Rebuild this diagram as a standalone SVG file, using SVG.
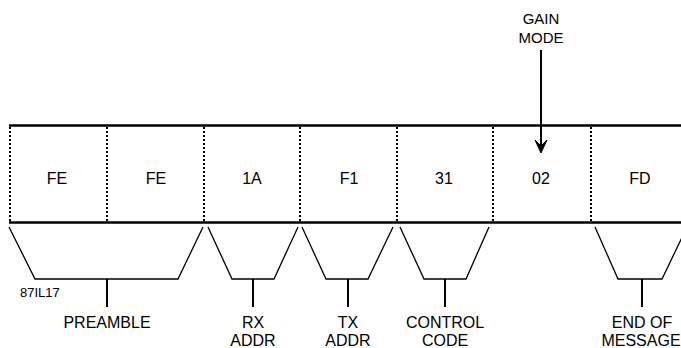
<svg xmlns="http://www.w3.org/2000/svg" width="681" height="348" viewBox="0 0 681 348">
<style>
.t{font-family:"Liberation Sans",Arial,sans-serif;font-size:16px;fill:#000;text-anchor:middle}
.s{font-size:15px}
.bar{stroke:#000;stroke-width:2.5;fill:none}
.dot{stroke:#000;stroke-width:2;stroke-dasharray:2 2;fill:none}
.br{stroke:#000;stroke-width:1.3;fill:none}
.stem{stroke:#000;stroke-width:2;fill:none}
</style>
<rect width="681" height="348" fill="#fff"/>
<g id="frame">
<line class="bar" x1="9" y1="125.5" x2="681" y2="125.5"/>
<line class="bar" x1="9" y1="222.5" x2="681" y2="222.5"/>
<line class="dot" x1="10" y1="127" x2="10" y2="221"/>
<line class="dot" x1="107" y1="127" x2="107" y2="221"/>
<line class="dot" x1="204" y1="127" x2="204" y2="221"/>
<line class="dot" x1="300" y1="127" x2="300" y2="221"/>
<line class="dot" x1="397" y1="127" x2="397" y2="221"/>
<line class="dot" x1="493" y1="127" x2="493" y2="221"/>
<line class="dot" x1="591" y1="127" x2="591" y2="221"/>
</g>
<g id="b1"><text class="t" x="57" y="184">FE</text></g>
<g id="b2"><text class="t" x="156" y="184">FE</text></g>
<g id="b3"><text class="t" x="252" y="184">1A</text></g>
<g id="b4"><text class="t" x="349" y="184">F1</text></g>
<g id="b5"><text class="t" x="444" y="184">31</text></g>
<g id="b6"><text class="t" x="541" y="184">02</text></g>
<g id="b7"><text class="t" x="640" y="184">FD</text></g>
<g id="gain">
<text class="t s" x="541" y="24">GAIN</text>
<text class="t s" x="541" y="43">MODE</text>
</g>
<g id="connectors">
<line class="stem" x1="541" y1="50" x2="541" y2="150"/>
<polygon points="535,140 541,153 547,140 541,146" fill="#000" stroke="#000" stroke-width="1"/>
<polyline class="br" points="9,227 35,279 178,279 203,227"/>
<line class="stem" x1="107" y1="279" x2="107" y2="307"/>
<polyline class="br" points="208,227 232,279 274,279 298,227"/>
<line class="stem" x1="253" y1="279" x2="253" y2="307"/>
<polyline class="br" points="302,227 326,279 368,279 393,227"/>
<line class="stem" x1="348" y1="279" x2="348" y2="307"/>
<polyline class="br" points="400,227 424,279 466,279 489,227"/>
<line class="stem" x1="445" y1="279" x2="445" y2="307"/>
<polyline class="br" points="595,227 618,279 662,279 687,227"/>
<line class="stem" x1="642" y1="279" x2="642" y2="307"/>
</g>
<g id="labels">
<text class="t" x="20" y="297" style="font-size:13px;text-anchor:start">87IL17</text>
<text class="t" x="107" y="328">PREAMBLE</text>
<text class="t" x="253" y="328">RX</text>
<text class="t" x="253" y="346">ADDR</text>
<text class="t" x="348" y="328">TX</text>
<text class="t" x="348" y="346">ADDR</text>
<text class="t" x="445" y="328">CONTROL</text>
<text class="t" x="445" y="346">CODE</text>
<text class="t" x="642" y="328">END OF</text>
<text class="t" x="641" y="346">MESSAGE</text>
</g>
</svg>
